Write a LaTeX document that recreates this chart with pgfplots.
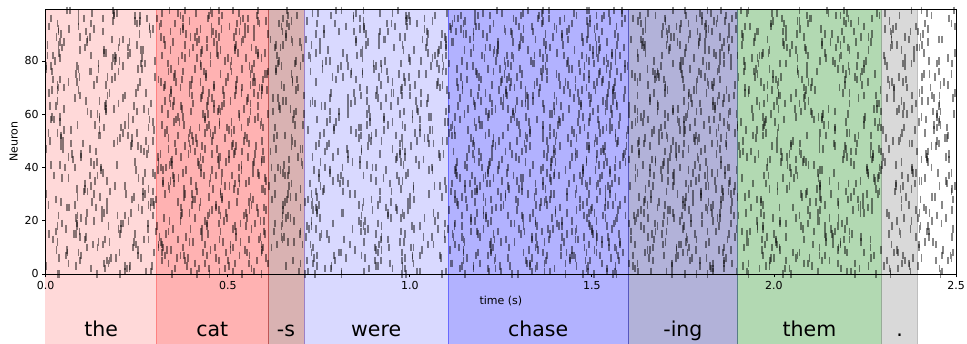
\documentclass[border=0pt]{standalone}
\usepackage{fontspec}
\setmainfont{DejaVu Sans}
\usepackage{pgfplots}
\pgfplotsset{compat=1.18}
\usetikzlibrary{plotmarks}
\definecolor{cMaroon}{RGB}{128,0,0}
\definecolor{cNavy}{RGB}{0,0,128}
\definecolor{cGreen}{RGB}{0,128,0}
\definecolor{cGray}{RGB}{128,128,128}
\pgfplotsset{
  spk/.style={only marks, mark=|, mark size=3.8pt, forget plot,
    mark options={line width=1.75pt, draw=black, draw opacity=0.47}},
  span/.style={draw=#1, fill=#1, fill opacity=0.3, draw opacity=0.3, line width=0.6pt, forget plot},
  lspan/.style={draw=#1, fill=#1, fill opacity=0.15, draw opacity=0.15, line width=0.6pt, forget plot},
}
% spike times in units of 2.5 ms (0..1000 = 0..2.5 s), one macro call per neuron
\newcommand\nr[2]{%
  \gdef\crd{}%
  \foreach \x in {#2}{\xdef\crd{\crd(\x,#1)}}%
  \edef\tmp{\noexpand\addplot[spk] coordinates {\crd};}\tmp}
\newcommand\spans[1]{%
  \addplot[lspan=red] coordinates {(0,0)(0,#1)(122,#1)(122,0)} -- cycle;
  \addplot[span=red] coordinates {(122,0)(122,#1)(244,#1)(244,0)} -- cycle;
  \addplot[span=cMaroon] coordinates {(244,0)(244,#1)(284,#1)(284,0)} -- cycle;
  \addplot[lspan=blue] coordinates {(284,0)(284,#1)(442,#1)(442,0)} -- cycle;
  \addplot[span=blue] coordinates {(442,0)(442,#1)(640,#1)(640,0)} -- cycle;
  \addplot[span=cNavy] coordinates {(640,0)(640,#1)(760,#1)(760,0)} -- cycle;
  \addplot[span=cGreen] coordinates {(760,0)(760,#1)(918,#1)(918,0)} -- cycle;
  \addplot[span=cGray] coordinates {(918,0)(918,#1)(958,#1)(958,0)} -- cycle;
}
\begin{document}
\begin{tikzpicture}
% word band below the raster
\begin{axis}[
  at={(0pt,-70pt)}, anchor=south west,
  scale only axis, width=910.3pt, height=70pt,
  xmin=0, xmax=1000, ymin=0, ymax=1,
  hide axis, clip=false,
]
\spans{1}
\tikzset{wl/.style={font=\fontsize{20.5}{24}\selectfont, anchor=base, inner sep=0pt}}
\node[wl] at (axis cs:61,0.114) {the};
\node[wl] at (axis cs:183,0.114) {cat};
\node[wl] at (axis cs:264,0.114) {-s};
\node[wl] at (axis cs:363,0.114) {were};
\node[wl] at (axis cs:541,0.114) {chase};
\node[wl] at (axis cs:700,0.114) {-ing};
\node[wl] at (axis cs:839,0.114) {them};
\node[wl] at (axis cs:938,0.114) {.};
\end{axis}
% raster
\begin{axis}[
  at={(0pt,0pt)}, anchor=south west,
  scale only axis, width=910.3pt, height=265pt,
  xmin=0, xmax=1000, ymin=0, ymax=99.5,
  xtick={0,200,400,600,800,1000},
  xticklabels={0.0,0.5,1.0,1.5,2.0,2.5},
  ytick={0,20,40,60,80},
  tick align=outside, major tick length=3.5pt,
  xtick pos=left, ytick pos=left,
  tick style={black, line width=0.8pt},
  axis line style={line width=0.8pt},
  ticklabel style={font=\fontsize{11}{13}\selectfont},
  label style={font=\fontsize{11}{13}\selectfont},
  xlabel={time (s)}, ylabel={Neuron},
  /pgf/number format/assume math mode=true,
  axis on top,
]
\spans{99.5}
\nr{0}{512,519,571,590,623,627,688,715,727,772,810,819,889,912,928,983,13,15,56,82,166,180,216,237,285,296,325,391,396,435,139,461,602,702}
\nr{1}{87,110,116,160,191,206,278,288,325,350,408,411,440,487,500,534,554,617,625,665,682,733,759,770,848,880,885,928,950,985,229,548,596,651}
\nr{2}{733,745,784,812,817,874,894,927,936,982,50,65,89,92,142,179,197,226,307,313,355,381,395,455,486,494,538,559,594,647,168,470,617,731}
\nr{3}{264,298,314,363,365,392,457,470,510,532,540,596,626,645,719,730,766,791,795,842,904,921,949,958,1,33,87,93,117,155,201,583,499,688}
\nr{4}{948,941,889,870,837,833,772,745,733,688,650,641,571,548,532,477,447,445,404,378,294,280,244,223,175,164,135,69,64,25,208,611,529,754}
\nr{5}{391,368,362,318,287,272,200,190,153,128,70,67,38,991,978,944,924,861,853,813,796,745,719,708,630,598,593,550,528,493,232,459,576,667}
\nr{6}{156,144,105,77,72,15,995,962,953,907,839,824,800,797,747,710,692,663,582,576,534,508,494,434,403,395,351,330,295,242,187,621,463,726}
\nr{7}{679,645,629,580,578,551,486,473,433,411,403,347,317,298,224,213,177,152,148,101,39,22,994,985,942,910,856,850,826,788,131,566,609,695}
\nr{8}{821,828,880,899,932,936,997,24,36,81,119,128,198,221,237,292,322,324,365,391,475,489,525,546,594,605,634,700,705,744,173,459,572,658}
\nr{9}{340,363,369,413,444,459,531,541,578,603,661,664,693,740,753,787,807,870,878,918,935,986,12,23,101,133,138,181,203,238,219,489,627,714}
\nr{10}{45,57,96,124,129,186,206,239,248,294,362,377,401,404,454,491,509,538,619,625,667,693,707,767,798,806,850,871,906,959,151,566,592,745}
\nr{11}{597,631,647,696,698,725,790,803,843,865,873,929,959,978,52,63,99,124,128,175,237,254,282,291,334,366,420,426,450,488,203,540,611,678}
\nr{12}{273,266,214,195,162,158,97,70,58,13,975,966,896,873,857,802,772,770,729,703,619,605,569,548,500,489,460,394,389,350,127,515,631,681}
\nr{13}{906,883,877,833,802,787,715,705,668,643,585,582,553,506,493,459,439,376,368,328,311,260,234,223,145,113,108,65,43,8,191,611,534,749}
\nr{14}{618,606,567,539,534,477,457,424,415,369,301,286,262,259,209,172,154,125,44,38,996,970,956,896,865,857,813,792,757,704,236,448,591,662}
\nr{15}{132,98,82,33,31,4,939,926,886,864,856,800,770,751,677,666,630,605,601,554,492,475,447,438,395,363,309,303,279,241,178,522,573,713}
\nr{16}{467,474,526,545,578,582,643,670,682,727,765,774,844,867,883,938,968,970,11,37,121,135,171,192,240,251,280,346,351,390,209,600,497,736}
\nr{17}{759,782,788,832,863,878,950,960,997,22,80,83,112,159,172,206,226,289,297,337,354,405,431,442,520,552,557,600,622,657,140,481,583,700}
\nr{18}{208,220,259,287,292,349,369,402,411,457,525,540,564,567,617,654,672,701,782,788,830,856,870,930,961,969,13,34,69,122,177,449,598,740}
\nr{19}{984,18,34,83,85,112,177,190,230,252,260,316,346,365,439,450,486,511,515,562,624,641,669,678,721,753,807,813,837,875,214,597,538,709}
\nr{20}{351,344,292,273,240,236,175,148,136,91,53,44,974,951,935,880,850,848,807,781,697,683,647,626,578,567,538,472,467,428,196,605,489,733}
\nr{21}{62,39,33,989,958,943,871,861,824,799,741,738,709,662,649,615,595,532,524,484,467,416,390,379,301,269,264,221,199,164,130,556,628,690}
\nr{22}{840,828,789,761,756,699,679,646,637,591,523,508,484,481,431,394,376,347,266,260,218,192,178,118,87,79,35,14,979,926,149,457,612,721}
\nr{23}{426,392,376,327,325,298,233,220,180,158,150,94,64,45,971,960,924,899,895,848,786,769,741,732,689,657,603,597,573,535,198,474,560,651}
\nr{24}{183,190,242,261,294,298,359,386,398,443,481,490,560,583,599,654,684,686,727,753,837,851,887,908,956,967,996,62,67,106,224,518,629,707}
\nr{25}{702,725,731,775,806,821,893,903,940,965,23,26,55,102,115,149,169,232,240,280,297,348,374,385,463,495,500,543,565,600,187,614,587,672}
\nr{26}{539,551,590,618,623,680,700,733,742,788,856,871,895,898,948,985,3,32,113,119,161,187,201,261,292,300,344,365,400,453,226,503,631,661}
\nr{27}{17,51,67,116,118,145,210,223,263,285,293,349,379,398,472,483,519,544,548,595,657,674,702,711,754,786,840,846,870,908,170,615,452,728}
\nr{28}{665,658,606,587,554,550,489,462,450,405,367,358,288,265,249,194,164,162,121,95,11,997,961,940,892,881,852,786,781,742,228,517,636,700}
\nr{29}{298,275,269,225,194,179,107,97,60,35,977,974,945,898,885,851,831,768,760,720,703,652,626,615,537,505,500,457,435,400,152,573,481,744}
\nr{30}{914,902,863,835,830,773,753,720,711,665,597,582,558,555,505,468,450,421,340,334,292,266,252,192,161,153,109,88,53,0,131,620,530,694}
\nr{31}{573,539,523,474,472,445,380,367,327,305,297,241,211,192,118,107,71,46,42,995,933,916,888,879,836,804,750,744,720,682,166,497,609,756}
\nr{32}{736,743,795,814,847,851,912,939,951,996,34,43,113,136,152,207,237,239,280,306,390,404,440,461,509,520,549,615,620,659,184,583,474,706}
\nr{33}{404,427,433,477,508,523,595,605,642,667,725,728,757,804,817,851,871,934,942,982,999,50,76,87,165,197,202,245,267,302,135,546,618,689}
\nr{34}{129,141,180,208,213,270,290,323,332,378,446,461,485,488,538,575,593,622,703,709,751,777,791,851,882,890,934,955,990,43,220,466,607,663}
\nr{35}{861,895,911,960,962,989,54,67,107,129,137,193,223,242,316,327,363,388,392,439,501,518,546,555,598,630,684,690,714,752,160,472,589,735}
\nr{36}{25,18,966,947,914,910,849,822,810,765,727,718,648,625,609,554,524,522,481,455,371,357,321,300,252,241,212,146,141,102,181,580,492,677}
\nr{37}{587,564,558,514,483,468,396,386,349,324,266,263,234,187,174,140,120,57,49,9,992,941,915,904,826,794,789,746,724,689,205,611,452,668}
\nr{38}{312,300,261,233,228,171,151,118,109,63,995,980,956,953,903,866,848,819,738,732,690,664,650,590,559,551,507,486,451,398,194,620,532,711}
\nr{39}{952,918,902,853,851,824,759,746,706,684,676,620,590,571,497,486,450,425,421,374,312,295,267,258,215,183,129,123,99,61,154,544,604,727}
\nr{40}{248,255,307,326,359,363,424,451,463,508,546,555,625,648,664,719,749,751,792,818,902,916,952,973,21,32,61,127,132,171,212,479,590,697}
\nr{41}{815,838,844,888,919,934,6,16,53,78,136,139,168,215,228,262,282,345,353,393,410,461,487,498,576,608,613,656,678,713,190,535,631,742}
\nr{42}{476,488,527,555,560,617,637,670,679,725,793,808,832,835,885,922,940,969,50,56,98,124,138,198,229,237,281,302,337,390,167,594,452,684}
\nr{43}{139,173,189,238,240,267,332,345,385,407,415,471,501,520,594,605,641,666,670,717,779,796,824,833,876,908,962,968,992,30,201,556,626,742}
\nr{44}{693,686,634,615,582,578,517,490,478,433,395,386,316,293,277,222,192,190,149,123,39,25,989,968,920,909,880,814,809,770,170,551,463,716}
\nr{45}{230,207,201,157,126,111,39,29,992,967,909,906,877,830,817,783,763,700,692,652,635,584,558,547,469,437,432,389,367,332,183,512,606,737}
\nr{46}{969,957,918,890,885,828,808,775,766,720,652,637,613,610,560,523,505,476,395,389,347,321,307,247,216,208,164,143,108,55,239,448,582,680}
\nr{47}{381,347,331,282,280,253,188,175,135,113,105,49,19,0,926,915,879,854,850,803,741,724,696,687,644,612,558,552,528,490,159,465,597,706}
\nr{48}{94,101,153,172,205,209,270,297,309,354,392,401,471,494,510,565,595,597,638,664,748,762,798,819,867,878,907,973,978,17,231,532,614,692}
\nr{49}{628,651,657,701,732,747,819,829,866,891,949,952,981,28,41,75,95,158,166,206,223,274,300,311,389,421,426,469,491,526,142,577,603,738}
\nr{50}{357,369,408,436,441,498,518,551,560,606,674,689,713,716,766,803,821,850,931,937,979,5,19,79,110,118,162,183,218,271,238,470,629,652}
\nr{51}{889,923,939,988,990,17,82,95,135,157,165,221,251,270,344,355,391,416,420,467,529,546,574,583,626,658,712,718,742,780,197,604,492,683}
\nr{52}{561,554,502,483,450,446,385,358,346,301,263,254,184,161,145,90,60,58,17,991,907,893,857,836,788,777,748,682,677,638,219,596,527,714}
\nr{53}{204,181,175,131,100,85,13,3,966,941,883,880,851,804,791,757,737,674,666,626,609,558,532,521,443,411,406,363,341,306,158,487,580,701}
\nr{54}{781,769,730,702,697,640,620,587,578,532,464,449,425,422,372,335,317,288,207,201,159,133,119,59,28,20,976,955,920,867,186,612,546,668}
\nr{55}{445,411,395,346,344,317,252,239,199,177,169,113,83,64,990,979,943,918,914,867,805,788,760,751,708,676,622,616,592,554,215,508,473,739}
\nr{56}{976,983,35,54,87,91,152,179,191,236,274,283,353,376,392,447,477,479,520,546,630,644,680,701,749,760,789,855,860,899,128,563,608,723}
\nr{57}{118,141,147,191,222,237,309,319,356,381,439,442,471,518,531,565,585,648,656,696,713,764,790,801,879,911,916,959,981,16,204,597,620,745}
\nr{58}{650,662,701,729,734,791,811,844,853,899,967,982,6,9,59,96,114,143,224,230,272,298,312,372,403,411,455,476,511,564,175,540,607,694}
\nr{59}{322,356,372,421,423,450,515,528,568,590,598,654,684,703,777,788,824,849,853,900,962,979,7,16,59,91,145,151,175,213,233,486,631,741}
\nr{60}{57,50,998,979,946,942,881,854,842,797,759,750,680,657,641,586,556,554,513,487,403,389,353,332,284,273,244,178,173,134,212,622,460,705}
\nr{61}{513,490,484,440,409,394,322,312,275,250,192,189,160,113,100,66,46,983,975,935,918,867,841,830,752,720,715,672,650,615,225,559,601,689}
\nr{62}{269,257,218,190,185,128,108,75,66,20,952,937,913,910,860,823,805,776,695,689,647,621,607,547,516,508,464,443,408,355,150,575,494,735}
\nr{63}{834,800,784,735,733,706,641,628,588,566,558,502,472,453,379,368,332,307,303,256,194,177,149,140,97,65,11,5,981,943,233,530,617,673}
\nr{64}{412,419,471,490,523,527,588,615,627,672,710,719,789,812,828,883,913,915,956,982,66,80,116,137,185,196,225,291,296,335,162,546,598,744}
\nr{65}{940,963,969,13,44,59,131,141,178,203,261,264,293,340,353,387,407,470,478,518,535,586,612,623,701,733,738,781,803,838,221,500,561,664}
\nr{66}{171,183,222,250,255,312,332,365,374,420,488,503,527,530,580,617,635,664,745,751,793,819,833,893,924,932,976,997,32,85,136,455,599,709}
\nr{67}{706,740,756,805,807,834,899,912,952,974,982,38,68,87,161,172,208,233,237,284,346,363,391,400,443,475,529,535,559,597,196,625,507,650}
\nr{68}{883,876,824,805,772,768,707,680,668,623,585,576,506,483,467,412,382,380,339,313,229,215,179,158,110,99,70,4,999,960,138,542,618,726}
\nr{69}{36,13,7,963,932,917,845,835,798,773,715,712,683,636,623,589,569,506,498,458,441,390,364,353,275,243,238,195,173,138,209,527,604,748}
\nr{70}{594,582,543,515,510,453,433,400,391,345,277,262,238,235,185,148,130,101,20,14,972,946,932,872,841,833,789,768,733,680,216,624,476,701}
\nr{71}{259,225,209,160,158,131,66,53,13,991,983,927,897,878,804,793,757,732,728,681,619,602,574,565,522,490,436,430,406,368,185,458,537,662}
\nr{72}{727,734,786,805,838,842,903,930,942,987,25,34,104,127,143,198,228,230,271,297,381,395,431,452,500,511,540,606,611,650,170,571,625,715}
\nr{73}{478,501,507,551,582,597,669,679,716,741,799,802,831,878,891,925,945,8,16,56,73,124,150,161,239,271,276,319,341,376,210,463,612,700}
\nr{74}{315,327,366,394,399,456,476,509,518,564,632,647,671,674,724,761,779,808,889,895,937,963,977,37,68,76,120,141,176,229,200,545,591,653}
\nr{75}{142,176,192,241,243,270,335,348,388,410,418,474,504,523,597,608,644,669,673,720,782,799,827,836,879,911,965,971,995,33,225,561,620,699}
\nr{76}{551,544,492,473,440,436,375,348,336,291,253,244,174,151,135,80,50,48,7,981,897,883,847,826,778,767,738,672,667,628,204,609,587,718}
\nr{77}{899,876,870,826,795,780,708,698,661,636,578,575,546,499,486,452,432,369,361,321,304,253,227,216,138,106,101,58,36,1,164,616,521,740}
\nr{78}{85,73,34,6,1,944,924,891,882,836,768,753,729,726,676,639,621,592,511,505,463,437,423,363,332,324,280,259,224,171,203,549,469,697}
\nr{79}{636,602,586,537,535,508,443,430,390,368,360,304,274,255,181,170,134,109,105,58,996,979,951,942,899,867,813,807,783,745,229,573,618,689}
\nr{80}{197,204,256,275,308,312,373,400,412,457,495,504,574,597,613,668,698,700,741,767,851,865,901,922,970,981,10,76,81,120,146,533,626,722}
\nr{81}{753,776,782,826,857,872,944,954,991,16,74,77,106,153,166,200,220,283,291,331,348,399,425,436,514,546,551,594,616,651,237,482,607,712}
\nr{82}{428,440,479,507,512,569,589,622,631,677,745,760,784,787,837,874,892,921,2,8,50,76,90,150,181,189,233,254,289,342,128,537,601,736}
\nr{83}{965,999,15,64,66,93,158,171,211,233,241,297,327,346,420,431,467,492,496,543,605,622,650,659,702,734,788,794,818,856,188,562,626,741}
\nr{84}{608,601,549,530,497,493,432,405,393,348,310,301,231,208,192,137,107,105,64,38,954,940,904,883,835,824,795,729,724,685,172,581,460,750}
\nr{85}{281,258,252,208,177,162,90,80,43,18,960,957,928,881,868,834,814,751,743,703,686,635,609,598,520,488,483,440,418,383,226,554,470,657}
\nr{86}{14,2,963,935,930,873,853,820,811,765,697,682,658,655,605,568,550,521,440,434,392,366,352,292,261,253,209,188,153,100,131,497,628,717}
\nr{87}{547,513,497,448,446,419,354,341,301,279,271,215,185,166,92,81,45,20,16,969,907,890,862,853,810,778,724,718,694,656,140,590,617,745}
\nr{88}{870,877,929,948,981,985,46,73,85,130,168,177,247,270,286,341,371,373,414,440,524,538,574,595,643,654,683,749,754,793,217,466,608,706}
\nr{89}{366,389,395,439,470,485,557,567,604,629,687,690,719,766,779,813,833,896,904,944,961,12,38,49,127,159,164,207,229,264,190,522,589,741}
\nr{90}{103,115,154,182,187,244,264,297,306,352,420,435,459,462,512,549,567,596,677,683,725,751,765,825,856,864,908,929,964,17,219,480,625,708}
\nr{91}{682,716,732,781,783,810,875,888,928,950,958,14,44,63,137,148,184,209,213,260,322,339,367,376,419,451,505,511,535,573,166,611,470,656}
\nr{92}{229,222,170,151,118,114,53,26,14,969,931,922,852,829,813,758,728,726,685,659,575,561,525,504,456,445,416,350,345,306,193,603,488,697}
\nr{93}{797,774,768,724,693,678,606,596,559,534,476,473,444,397,384,350,330,267,259,219,202,151,125,114,36,4,999,956,934,899,182,520,627,751}
\nr{94}{459,447,408,380,375,318,298,265,256,210,142,127,103,100,50,13,995,966,885,879,837,811,797,737,706,698,654,633,598,545,235,578,492,725}
\nr{95}{927,893,877,828,826,799,734,721,681,659,651,595,565,546,472,461,425,400,396,349,287,270,242,233,190,158,104,98,74,36,214,517,620,746}
\nr{96}{338,345,397,416,449,453,514,541,553,598,636,645,715,738,754,809,839,841,882,908,992,6,42,63,111,122,151,217,222,261,178,570,611,680}
\nr{97}{75,98,104,148,179,194,266,276,313,338,396,399,428,475,488,522,542,605,613,653,670,721,747,758,836,868,873,916,938,973,232,456,583,703}
\nr{98}{719,731,770,798,803,860,880,913,922,968,36,51,75,78,128,165,183,212,293,299,341,367,381,441,472,480,524,545,580,633,145,501,619,662}
\nr{99}{496,530,546,595,597,624,689,702,742,764,772,828,858,877,951,962,998,23,27,74,136,153,181,190,233,265,319,325,349,387,206,553,633,727}
\end{axis}
\pgfresetboundingbox
\path[use as bounding box] (-45.7pt,-70pt) rectangle (921.3pt,274pt);
\end{tikzpicture}
\end{document}
